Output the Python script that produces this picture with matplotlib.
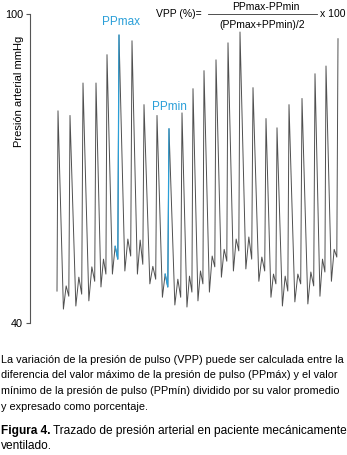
import numpy as np
import matplotlib
matplotlib.use('Agg')
import matplotlib.pyplot as plt
from matplotlib.lines import Line2D

plt.rcParams['font.family'] = ['Liberation Sans', 'DejaVu Sans']

# beat peak times (s) and systolic values (mmHg)
peak_t = [1.40, 2.00, 2.65, 3.30, 3.85, 4.45, 5.10, 5.70, 6.35, 6.95, 7.60, 8.15,
          8.70, 9.30, 9.90, 10.50, 11.15, 11.80, 12.35, 12.95, 13.60, 14.25, 14.80, 15.40]
peak_p = [81.2, 80.3, 86.6, 86.6, 92.1, 95.9, 94.8, 82.4, 80.3, 77.7, 80.8, 85.5,
          89.0, 91.1, 94.4, 96.5, 85.7, 79.7, 77.9, 82.4, 83.6, 88.4, 89.9, 95.2]
# after each peak: lowest point, dicrotic bump, foot before next upstroke
low_p = [42.7, 43.3, 44.3, 47.0, 49.5, 50.1, 49.5, 47.6, 45.0, 43.5, 43.1, 44.3,
         46.0, 48.9, 50.1, 50.5, 48.1, 45.0, 43.3, 44.1, 43.7, 45.2, 48.1]
bump_p = [47.2, 48.9, 50.9, 52.4, 54.9, 56.3, 56.1, 51.0, 49.5, 48.5, 49.1, 50.1,
          53.0, 54.3, 56.3, 56.7, 52.8, 49.5, 49.1, 49.5, 49.9, 52.4, 54.3]
foot_p = [45.2, 45.6, 48.1, 49.5, 52.4, 53.0, 51.4, 48.5, 47.0, 45.0, 46.0, 47.6,
          50.9, 52.0, 54.0, 52.4, 50.1, 47.6, 46.2, 47.6, 47.2, 49.9, 52.8]
start_t, start_p = 1.35, 46.2
i_max, i_min = 5, 9

# build trace
t = [start_t]
p = [start_p]
seg = {}
for i in range(len(peak_t)):
    t.append(peak_t[i]); p.append(peak_p[i])
    if i < len(low_p):
        g = peak_t[i + 1] - peak_t[i]
        tt = [peak_t[i] + 0.45 * g, peak_t[i] + 0.68 * g, peak_t[i] + 0.9 * g]
        t += tt
        p += [low_p[i], bump_p[i], foot_p[i]]
        seg[i + 1] = (tt[1:] + [peak_t[i + 1]], [bump_p[i], foot_p[i], peak_p[i + 1]])

fig = plt.figure(figsize=(3.47, 4.55), dpi=100)
ax = fig.add_axes([30 / 347, 132 / 455, 317 / 347, 309 / 455])
ax.plot(t, p, color='#505050', lw=0.7)
blue = '#2a9fd8'
for k in (i_max, i_min):
    ax.plot(seg[k][0], seg[k][1], color=blue, lw=0.9)

ax.text(4.55, 98.5, 'PPmax', color=blue, fontsize=8.5, ha='center', va='center')
ax.text(6.95, 82.0, 'PPmin', color=blue, fontsize=8.5, ha='center', va='center')

ax.set_xlim(0, 15.85)
ax.set_ylim(40, 100)
ax.set_yticks([40, 100])
ax.tick_params(axis='y', length=3, width=0.8, color='#555555', labelsize=7.8, pad=2)
ax.set_xticks([])
for s in ['top', 'right', 'bottom']:
    ax.spines[s].set_visible(False)
ax.spines['left'].set_color('#555555')
ax.spines['left'].set_linewidth(0.8)
ax.set_ylabel('Presión arterial mmHg', fontsize=8)
ax.yaxis.set_label_coords(-0.02, 0.75)

# formula
fy = 1 - 14 / 455
fig.text(156 / 347, fy, 'VPP (%)=', fontsize=7.5, va='center', ha='left')
fig.text(266 / 347, 1 - 7 / 455, 'PPmax-PPmin', fontsize=7.5, va='center', ha='center')
fig.text(262 / 347, 1 - 25 / 455, '(PPmax+PPmin)/2', fontsize=7.5, va='center', ha='center')
fig.add_artist(Line2D([208 / 347, 317 / 347], [fy, fy], color='#333333', lw=0.6))
fig.text(320 / 347, fy, 'x 100', fontsize=7.5, va='center', ha='left')

# caption
cap = ['La variación de la presión de pulso (VPP) puede ser calculada entre la',
       'diferencia del valor máximo de la presión de pulso (PPmáx) y el valor',
       'mínimo de la presión de pulso (PPmín) dividido por su valor promedio',
       'y expresado como porcentaje.']
for j, line in enumerate(cap):
    fig.text(1 / 347, 1 - (360 + j * 15.5) / 455, line, fontsize=7.8, va='center', ha='left')

fy2 = 1 - 431 / 455
t1 = fig.text(1 / 347, fy2, 'Figura 4.', fontsize=8.6, weight='bold', va='center', ha='left')
r = fig.canvas.get_renderer()
x2 = t1.get_window_extent(r).x1 / fig.bbox.width
fig.text(x2, fy2, ' Trazado de presión arterial en paciente mecánicamente',
         fontsize=8.6, va='center', ha='left')
fig.text(1 / 347, 1 - 446 / 455, 'ventilado.', fontsize=8.6, va='center', ha='left')

fig.savefig('out.png', dpi=100)
